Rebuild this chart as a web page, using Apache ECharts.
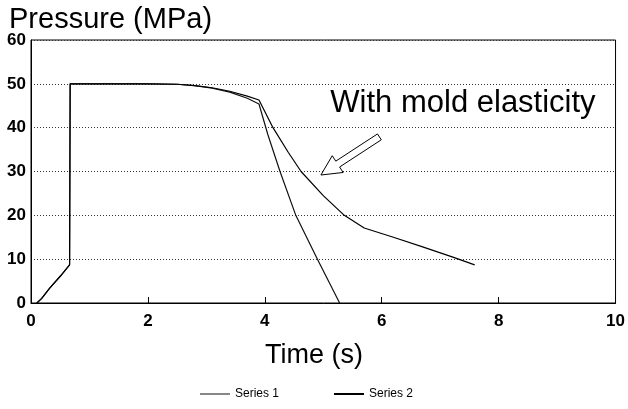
<!DOCTYPE html>
<html><head><meta charset="utf-8">
<script src="https://cdn.jsdelivr.net/npm/echarts@6/dist/echarts.min.js"></script>
<style>html,body{margin:0;padding:0;background:#fff}#c{width:628px;height:409px}</style>
</head><body><div id="c"></div>
<script>
// Data (time in s, pressure in MPa)
const seriesNames = ['Series 1', 'Series 2'];
const xTicks = [0, 2, 4, 6, 8, 10];
const yTicks = [0, 10, 20, 30, 40, 50, 60];
// Without mold elasticity (drops to zero)
const series1 = [
  [0.1,0],[0.18,1.0],[0.32,3.4],[0.5,6.1],[0.66,8.7],[0.67,50],
  [1.0,50],[2.0,50],[2.5,49.9],[2.8,49.6],[3.1,49.0],[3.4,48.1],[3.7,46.7],[3.9,45.4],
  [4.05,38.5],[4.26,30],[4.53,20],[4.9,10],[5.28,0]
];
// With mold elasticity
const series2 = [
  [0.1,0],[0.18,1.0],[0.32,3.4],[0.5,6.1],[0.66,8.7],[0.67,50],
  [1.0,50],[2.0,50],[2.5,49.9],[2.8,49.6],[3.1,49.1],[3.4,48.3],[3.7,47.2],[3.9,46.3],
  [4.14,40],[4.4,34.4],[4.62,30],[5.0,24.5],[5.36,20],[5.7,17.1],[6.2,15.0],[6.7,12.8],[7.23,10.4],[7.59,8.7]
];
const annotationText = 'With mold elasticity';
const annotationAt = [7.39, 45.6];
const arrowTail = [5.96, 37.9];
const arrowTip = [4.96, 29.2];

const FONT = '"Liberation Sans", Arial, sans-serif';
const chart = echarts.init(document.getElementById('c'), null, {renderer: 'canvas'});
chart.setOption({
  animation: false,
  backgroundColor: '#fff',
  grid: {left: 31, right: 9, top: 40, bottom: 106, show: true, borderColor: '#000', borderWidth: 1},
  title: [
    {text: 'Pressure (MPa)', left: 4, top: 0, textStyle: {fontFamily: FONT, fontSize: 29, fontWeight: 'normal', color: '#000'}},
    {text: 'Time (s)', left: 'center', top: 337, textStyle: {fontFamily: FONT, fontSize: 27, fontWeight: 'normal', color: '#000'}}
  ],
  legend: {
    left: 195, top: 383, itemWidth: 30, itemHeight: 2, itemGap: 55,
    textStyle: {fontFamily: FONT, fontSize: 12, color: '#000'},
    data: [
      {name: seriesNames[0], icon: 'rect', itemStyle: {color: '#888'}},
      {name: seriesNames[1], icon: 'rect', itemStyle: {color: '#000'}}
    ]
  },
  xAxis: {
    type: 'value', min: xTicks[0], max: xTicks[xTicks.length-1], interval: 2,
    axisLine: {show: true, lineStyle: {color: '#000', width: 1}},
    axisTick: {show: true, inside: true, length: 6, lineStyle: {color: '#000'}},
    axisLabel: {fontFamily: FONT, fontSize: 17, fontWeight: 'bold', color: '#000', margin: 10},
    splitLine: {show: false}
  },
  yAxis: {
    type: 'value', min: yTicks[0], max: yTicks[yTicks.length-1], interval: 10,
    axisLine: {show: true, lineStyle: {color: '#000', width: 1}},
    axisTick: {show: false},
    axisLabel: {fontFamily: FONT, fontSize: 17, fontWeight: 'bold', color: '#000', margin: 5},
    splitLine: {show: true, lineStyle: {color: '#333', type: [1, 2], width: 1}}
  },
  series: [
    {name: seriesNames[0], type: 'line', data: series1, showSymbol: false, smooth: false,
     lineStyle: {color: '#111', width: 1.2}, itemStyle: {color: '#888'}, z: 3},
    {name: seriesNames[1], type: 'line', data: series2, showSymbol: false, smooth: false,
     lineStyle: {color: '#000', width: 1.2}, itemStyle: {color: '#000'}, z: 4}
  ]
});

// Annotation: hollow arrow + text, positioned from data coordinates
const tail = chart.convertToPixel({gridIndex: 0}, arrowTail);
const tip = chart.convertToPixel({gridIndex: 0}, arrowTip);
const dx = tip[0]-tail[0], dy = tip[1]-tail[1];
const L = Math.sqrt(dx*dx+dy*dy);
const ux = dx/L, uy = dy/L, nx = -uy, ny = ux;
const sw = 3.5, hw = 10, hl = 20;
const bx = tip[0]-ux*hl, by = tip[1]-uy*hl;
const pts = [
  [tail[0]+nx*sw, tail[1]+ny*sw],
  [bx+nx*sw, by+ny*sw],
  [bx+nx*hw, by+ny*hw],
  [tip[0], tip[1]],
  [bx-nx*hw, by-ny*hw],
  [bx-nx*sw, by-ny*sw],
  [tail[0]-nx*sw, tail[1]-ny*sw]
];
const textPos = chart.convertToPixel({gridIndex: 0}, annotationAt);
chart.setOption({
  graphic: [
    {type: 'polygon', shape: {points: pts}, style: {fill: '#fff', stroke: '#000', lineWidth: 1}, z: 10},
    {type: 'text', x: textPos[0], y: textPos[1],
     style: {text: annotationText, fontFamily: FONT, fontSize: 31, fill: '#000', textAlign: 'center', textVerticalAlign: 'middle'}, z: 10}
  ]
});
</script></body></html>
